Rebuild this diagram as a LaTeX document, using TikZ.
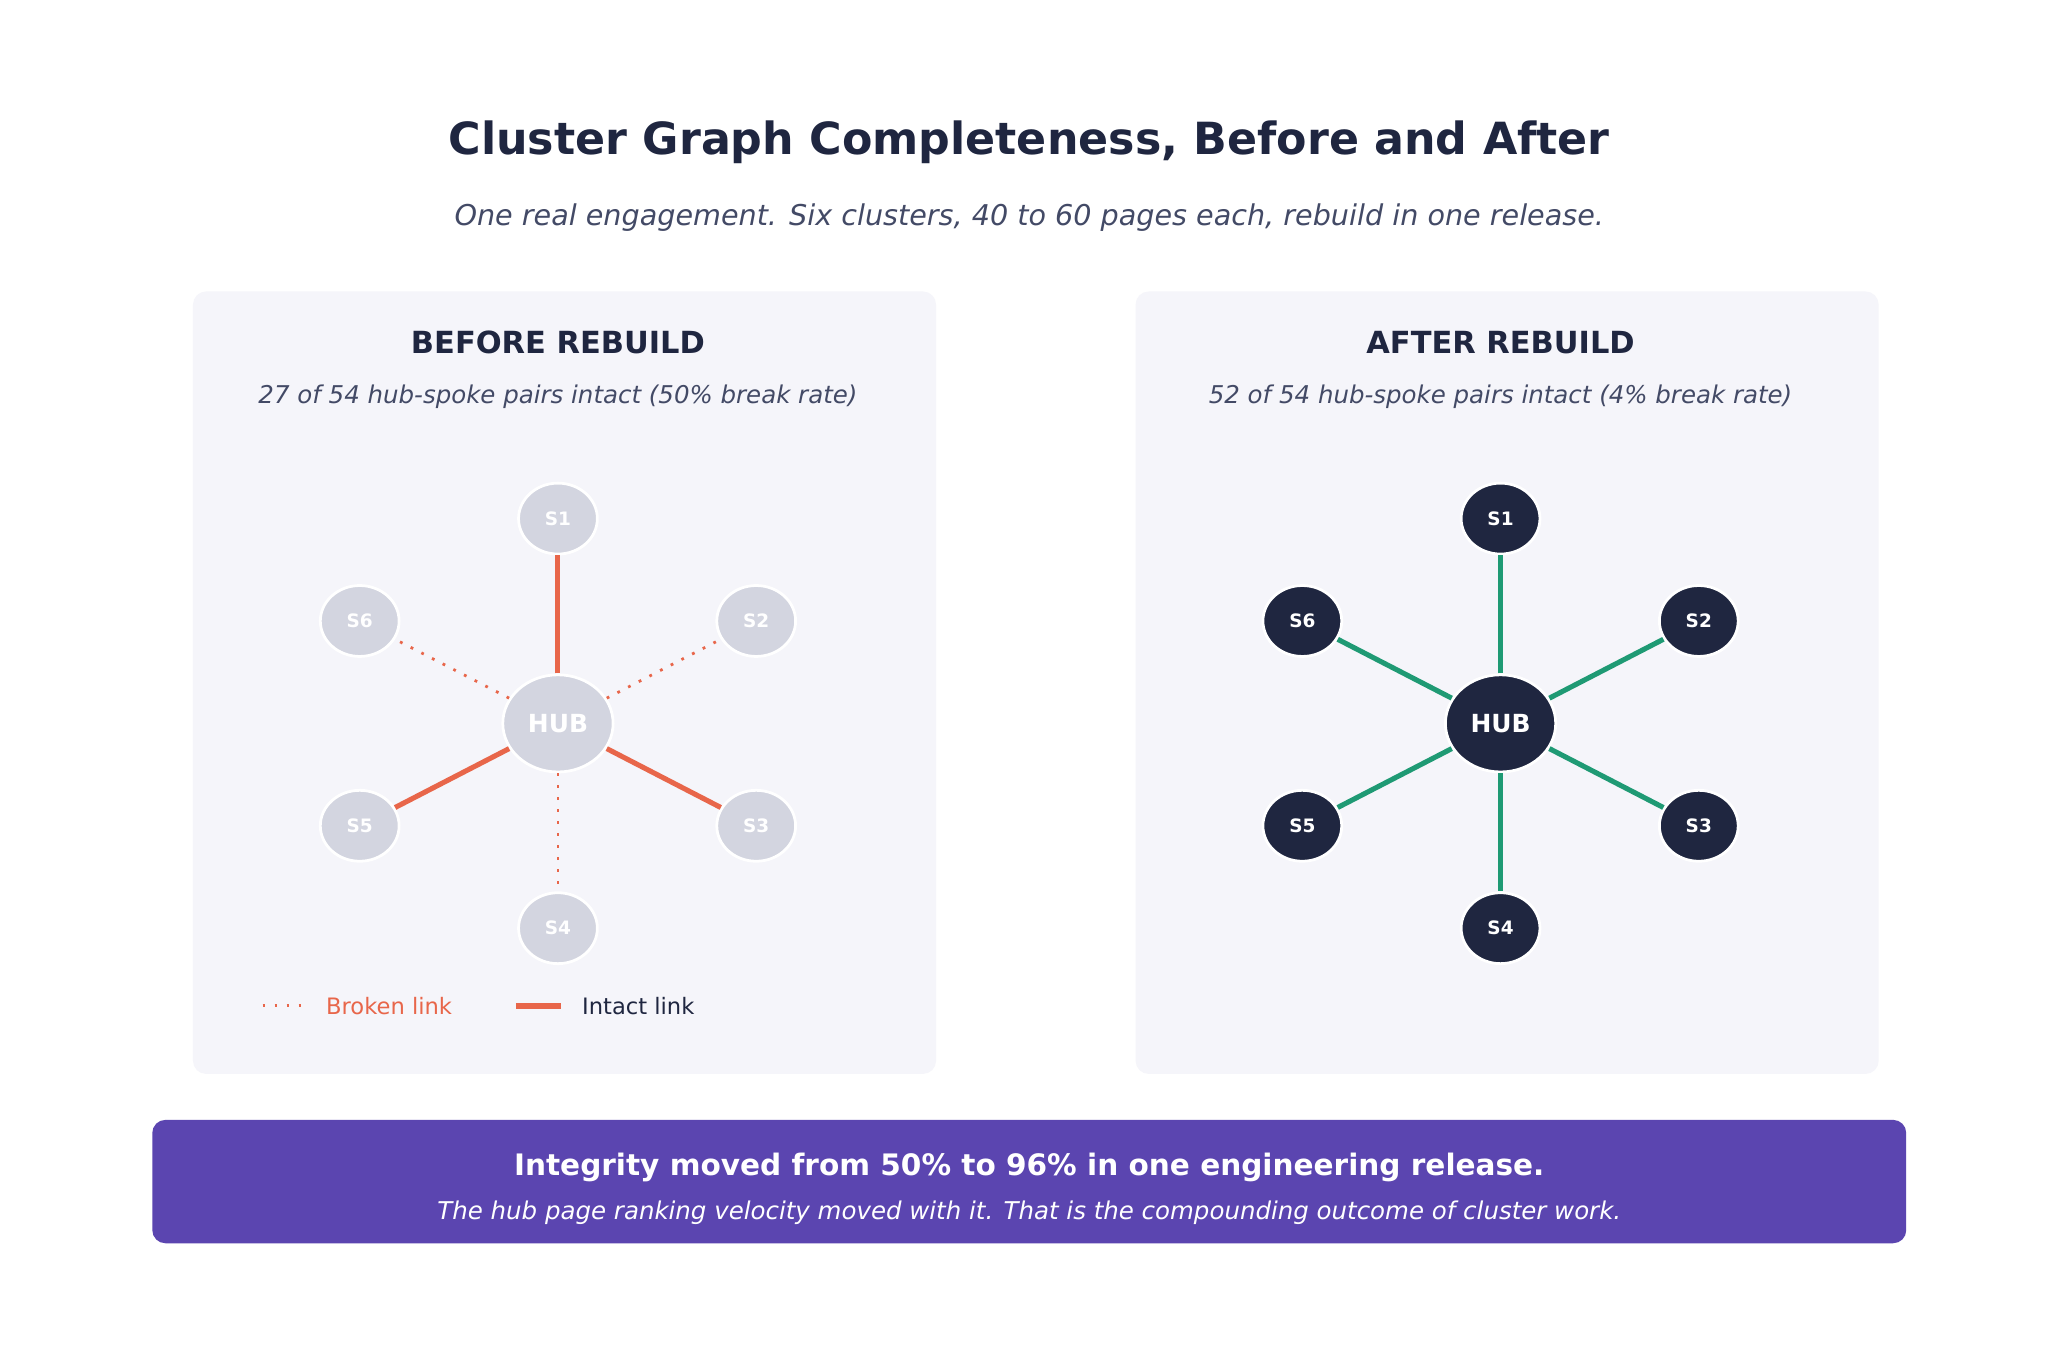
\documentclass[tikz,border=0pt]{standalone}
\usepackage{fontspec}
\setmainfont{DejaVu Sans}
\usetikzlibrary{calc}
\usetikzlibrary{shapes.geometric}
\definecolor{ink}{HTML}{1F2640}
\definecolor{subink}{HTML}{434A66}
\definecolor{panel}{HTML}{F5F5FA}
\definecolor{grey1}{HTML}{D3D5E0}
\definecolor{coral}{HTML}{E8664A}
\definecolor{teal}{HTML}{1F9A74}
\definecolor{banner}{HTML}{5B45B0}
\begin{document}
\begin{tikzpicture}[x=0.01cm,y=-0.01cm,
  before/.style={ellipse,fill=grey1,draw=white,line width=0.6pt,text=white,font=\bfseries\fontsize{4}{4}\selectfont},
  after/.style={ellipse,fill=ink,draw=white,line width=0.6pt,text=white,font=\bfseries\fontsize{4}{4}\selectfont},
  intact/.style={line width=1.1pt},
  broken/.style={line width=0.6pt,dotted}]

  \useasboundingbox (0,0) rectangle (1560,1044);
  \fill[white] (0,0) rectangle (1560,1044);

  \node (title) at (784,108) {\bfseries\color{ink}\fontsize{9.6}{11}\selectfont Cluster Graph Completeness, Before and After};
  \node (sub) at (784,166) {\itshape\color{subink}\fontsize{6.2}{7}\selectfont One real engagement. Six clusters, 40 to 60 pages each, rebuild in one release.};

  % the two panels
  \foreach \px/\name/\txt in {147/left/{27 of 54 hub-spoke pairs intact (50\% break rate)},865/right/{52 of 54 hub-spoke pairs intact (4\% break rate)}}{
    \fill[panel,rounded corners=0.1cm] (\px,222) rectangle ++(566,596);
    \node (\name sub) at (\px+278,302) {\itshape\color{subink}\fontsize{5.3}{6}\selectfont \txt};
  }
  \node (lefttitle) at (425,261) {\bfseries\color{ink}\fontsize{6.6}{7}\selectfont BEFORE REBUILD};
  \node (righttitle) at (1143,261) {\bfseries\color{ink}\fontsize{6.6}{7}\selectfont AFTER REBUILD};

  % hubs
  \node[before,inner sep=0pt,minimum width=0.84cm,minimum height=0.74cm,font=\bfseries\fontsize{5.4}{5}\selectfont] (hubL) at (425,551) {HUB};
  \node[after,inner sep=0pt,minimum width=0.84cm,minimum height=0.74cm,font=\bfseries\fontsize{5.4}{5}\selectfont] (hubR) at (1143,551) {HUB};

  % spokes
  \foreach \i/\dx/\dy/\kind in {1/0/-156/intact,2/151/-78/broken,3/151/78/intact,4/0/156/broken,5/-151/78/intact,6/-151/-78/broken}{
    \node[before,inner sep=0pt,minimum width=0.6cm,minimum height=0.54cm] (L\i) at (425+\dx,551+\dy) {S\i};
    \node[after,inner sep=0pt,minimum width=0.6cm,minimum height=0.54cm] (R\i) at (1143+\dx,551+\dy) {S\i};
    \draw[\kind,coral] (hubL) -- (L\i);
    \draw[intact,teal] (hubR) -- (R\i);
  }

  % legend
  \coordinate (b1) at (200,766); \coordinate (b2) at (232,766);
  \draw[broken,coral] (b1) -- (b2);
  \node[anchor=west,text=coral,font=\fontsize{4.9}{5}\selectfont] (brokenlbl) at (236,766) {Broken link};
  \coordinate (i1) at (393,766); \coordinate (i2) at (427,766);
  \draw[intact,coral,line width=1.3pt] (i1) -- (i2);
  \node[anchor=west,text=ink,font=\fontsize{4.9}{5}\selectfont] (intactlbl) at (431,766) {Intact link};

  % banner
  \fill[banner,rounded corners=0.1cm] (116,853) rectangle (1452,947);
  \node[text=white,font=\bfseries\fontsize{6.4}{7}\selectfont] (msg) at (784,889) {Integrity moved from 50\% to 96\% in one engineering release.};
  \node[text=white,font=\itshape\fontsize{5.3}{6}\selectfont] (msg2) at (784,924) {The hub page ranking velocity moved with it. That is the compounding outcome of cluster work.};

\end{tikzpicture}
\end{document}
